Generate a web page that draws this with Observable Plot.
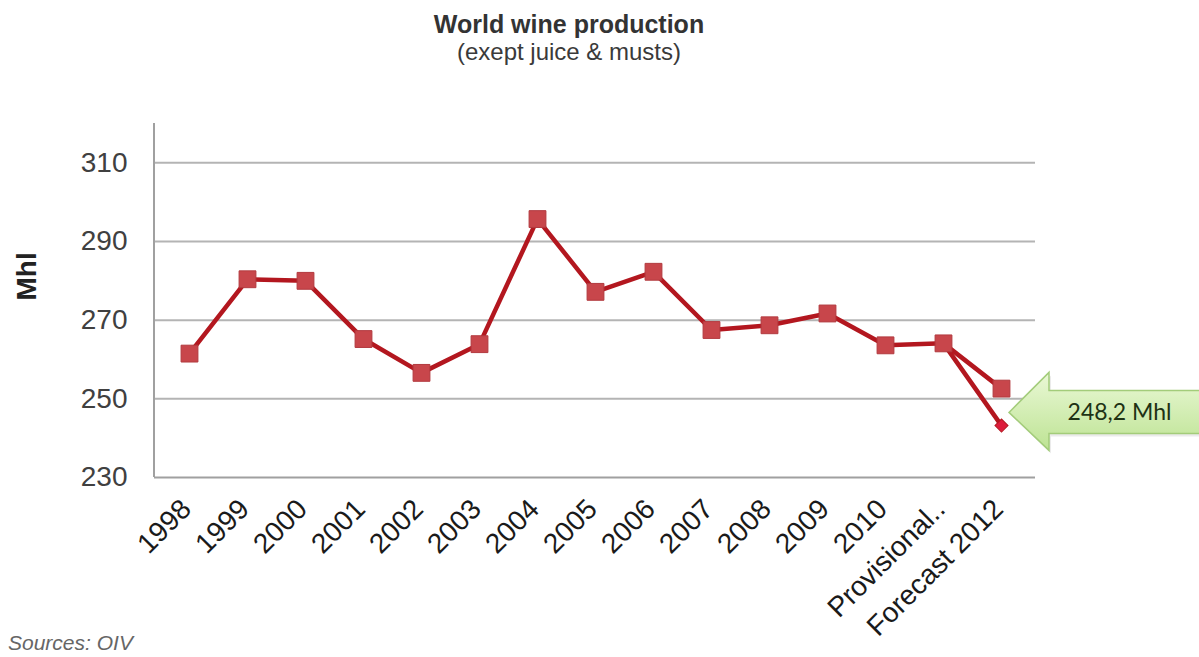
<!DOCTYPE html>
<html>
<head>
<meta charset="utf-8">
<script src="https://cdn.jsdelivr.net/npm/d3@7"></script>
<script src="https://cdn.jsdelivr.net/npm/@observablehq/plot@0.6"></script>
<style>
  body { margin: 0; background: #fff; font-family: "Liberation Sans", Arial, sans-serif; }
  #wrap { position: relative; width: 1199px; height: 657px; overflow: hidden; }
  #chart { position: absolute; left: 0; top: 0; }
  .t { position: absolute; left: 0; width: 1138px; text-align: center; color: #333; white-space: nowrap; }
  #title { top: 10px; font-size: 25px; font-weight: bold; line-height: 28px; }
  #subtitle { top: 38px; font-size: 24px; line-height: 28px; color: #3a3a3a; }
  #source { position: absolute; left: 8px; top: 631px; font-size: 21px; font-style: italic; color: #666; }
</style>
</head>
<body>
<div id="wrap">
  <div id="chart"></div>
  <div class="t" id="title">World wine production</div>
  <div class="t" id="subtitle">(exept juice &amp; musts)</div>
  <div id="source">Sources: OIV</div>
</div>
<script>
const categories = ["1998", "1999", "2000", "2001", "2002", "2003", "2004", "2005", "2006", "2007", "2008", "2009", "2010", "Provisional..", "Forecast 2012"];
const production = [261.5, 280.4, 280.0, 265.2, 256.6, 263.9, 295.7, 277.2, 282.3, 267.5, 268.7, 271.7, 263.6, 264.1, 252.6];
const forecastCategories = ["Provisional..", "Forecast 2012"];
const forecastValues = [264.1, 243.2];
const yTicks = [230, 250, 270, 290, 310];
const yAxisLabel = "Mhl";
const calloutLabel = "248,2 Mhl";
const calloutCategory = "Forecast 2012";
const calloutValue = 248.2;

const mainData = categories.map((c, i) => ({cat: c, value: production[i]}));
const forecastData = forecastCategories.map((c, i) => ({cat: c, value: forecastValues[i]}));

function leftAxisLine(index, scales, values, dimensions) {
  const d = dimensions;
  const g = d3.create("svg:g");
  g.append("line")
    .attr("x1", d.marginLeft).attr("x2", d.marginLeft)
    .attr("y1", d.marginTop).attr("y2", d.height - d.marginBottom)
    .attr("stroke", "#a0a0a0").attr("stroke-width", 2);
  return g.node();
}

function calloutArrow(index, scales) {
  const tx = scales.x(calloutCategory) + 8;
  const ty = scales.y(calloutValue) + 7;
  const g = d3.create("svg:g");
  const grad = g.append("defs").append("linearGradient")
    .attr("id", "calloutGrad").attr("x1", 0).attr("x2", 0).attr("y1", 0).attr("y2", 1);
  grad.append("stop").attr("offset", "0%").attr("stop-color", "#eaf8d6");
  grad.append("stop").attr("offset", "100%").attr("stop-color", "#bde393");
  const path = d3.path();
  path.moveTo(tx, ty);
  path.lineTo(tx + 40, ty - 40);
  path.lineTo(tx + 40, ty - 22);
  path.lineTo(tx + 260, ty - 22);
  path.lineTo(tx + 260, ty + 21);
  path.lineTo(tx + 40, ty + 21);
  path.lineTo(tx + 40, ty + 38);
  path.closePath();
  g.append("path").attr("d", path.toString())
    .attr("transform", "translate(2,3)")
    .attr("fill", "#000").attr("fill-opacity", 0.08);
  g.append("path").attr("d", path.toString())
    .attr("fill", "url(#calloutGrad)")
    .attr("stroke", "#a3cc7a").attr("stroke-width", 1.5);
  return g.node();
}

const chart = Plot.plot({
  width: 1199,
  height: 657,
  marginTop: 123,
  marginBottom: 180,
  marginLeft: 154,
  marginRight: 164,
  x: {type: "point", domain: categories, padding: 0.5},
  y: {domain: [230, 320]},
  style: {fontFamily: "'Liberation Sans', Arial, sans-serif", background: "transparent"},
  marks: [
    Plot.gridY(yTicks.slice(1), {stroke: "#b4b4b4", strokeOpacity: 1, strokeWidth: 2}),
    Plot.ruleY([yTicks[0]], {stroke: "#a0a0a0", strokeWidth: 2}),
    leftAxisLine,
    Plot.axisY(yTicks, {tickSize: 0, tickPadding: 27, fontSize: 28, fill: "#404040", label: null}),
    Plot.axisX({tickSize: 0, tickRotate: -45, tickPadding: 27, dx: -3, fontSize: 28, fill: "#1a1a1a", label: null}),
    Plot.text([yAxisLabel], {frameAnchor: "left", dx: -127, rotate: -90, fontSize: 28, fontWeight: "bold", fill: "#222"}),
    Plot.line(forecastData, {x: "cat", y: "value", stroke: "#b3171f", strokeWidth: 4.5}),
    Plot.dot(forecastData.slice(1), {x: "cat", y: "value", symbol: "square", rotate: 45, r: 5.2, fill: "#dd1c3c", stroke: "#b3171f", strokeWidth: 1}),
    Plot.line(mainData, {x: "cat", y: "value", stroke: "#b3171f", strokeWidth: 4.5}),
    Plot.dot(mainData, {x: "cat", y: "value", symbol: "square", r: 9.5, fill: "#c8464b", stroke: "#b23a3f", strokeWidth: 1}),
    calloutArrow,
    Plot.text([calloutLabel], {x: () => calloutCategory, y: () => calloutValue, dx: 118, dy: 7, fontSize: 23, fill: "#1e3214", fontFamily: "Lato, 'Liberation Sans', sans-serif", textAnchor: "middle"})
  ]
});
document.getElementById("chart").appendChild(chart);
</script>
</body>
</html>
